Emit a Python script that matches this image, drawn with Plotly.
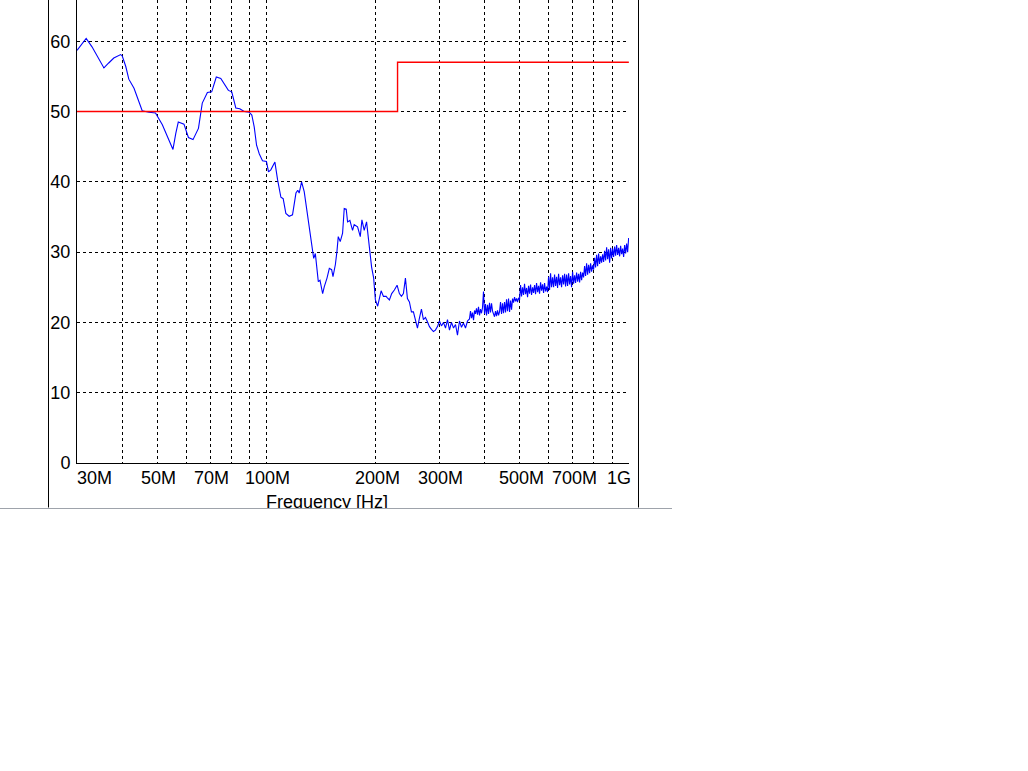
import math
import plotly.graph_objects as go

# ---------------- data ----------------
# measured trace: frequency in MHz, level in dB(uV/m)
freq_mhz = [
    30.0, 31.8, 33.0, 35.6, 36.7, 37.9, 39.6, 40.0, 40.9, 41.7, 43.1, 44.0, 45.4, 47.4, 49.4,
    51.6, 53.6, 55.2, 56.2, 57.1, 59.2, 60.9, 62.7, 64.9, 66.5, 68.7, 70.6, 72.7, 74.8, 78.5,
    80.2, 82.3, 84.4, 86.8, 89.6, 91.1, 92.5, 93.9, 95.5, 97.5, 100.0, 101.3, 102.8, 105.5,
    107.3, 109.6, 111.2, 113.1, 115.5, 118.0, 120.6, 122.0, 123.1, 125.0, 127.1, 129.3, 130.6,
    132.6, 134.1, 135.0, 136.4, 137.9, 139.0, 140.5, 142.9, 144.4, 146.9, 149.1, 151.3, 152.6,
    154.9, 156.5, 157.8, 159.8, 162.2, 163.9, 166.0, 167.4, 169.9, 172.8, 174.6, 178.4, 181.5,
    183.4, 186.1, 188.9, 191.3, 193.0, 195.0, 197.6, 199.8, 202.7, 205.0, 207.2, 210.3, 213.9,
    215.6, 218.4, 221.6, 225.4, 229.3,
    232.7, 235.7, 238.7, 241.8, 244.9, 248.0, 251.2, 254.4, 257.7, 261.0, 264.3, 267.7, 271.1,
    274.6, 278.1, 281.7, 285.3, 288.9, 292.6, 296.4, 300.2, 304.0, 307.9, 311.9, 315.9, 319.9,
    324.0, 328.2, 332.4, 336.6, 340.9, 345.3, 349.7, 354.2, 358.7,
    363.3, 365.6, 368.0, 370.3, 372.7, 375.1, 377.4, 379.8, 382.3, 384.7,
    387.2, 389.6, 392.1, 394.6, 397.1, 399.7, 402.2, 404.8, 407.4, 410.0,
    412.6, 415.2, 417.9, 420.6, 423.2, 425.9, 428.6, 431.4, 434.1, 436.9,
    439.7, 442.5, 445.3, 448.2, 451.0, 453.9, 456.8, 459.7, 462.6, 465.6,
    468.6, 471.6, 474.6, 477.6, 480.6, 483.7, 486.8, 489.9, 493.0, 496.2,
    499.3, 502.5, 505.7, 508.9, 512.2, 515.4, 518.7, 522.0, 525.4, 528.7,
    532.1, 535.5, 538.9, 542.4, 545.8, 549.3, 552.8, 556.3, 559.9, 563.5,
    567.0, 570.7, 574.3, 578.0, 581.7, 585.4, 589.1, 592.9, 596.6, 600.5,
    604.3, 608.1, 612.0, 615.9, 619.9, 623.8, 627.8, 631.8, 635.8, 639.9,
    644.0, 648.1, 652.2, 656.4, 660.6, 664.8, 669.0, 673.3, 677.6, 681.9,
    686.2, 690.6, 695.0, 699.5, 703.9, 708.4, 712.9, 717.5, 722.1, 726.7,
    731.3, 736.0, 740.7, 745.4, 750.1, 754.9, 759.7, 764.6, 769.5, 774.4,
    779.3, 784.3, 789.3, 794.3, 799.4, 804.5, 809.6, 814.8, 820.0, 825.2,
    830.5, 835.8, 841.1, 846.5, 851.9, 857.3, 862.8, 868.3, 873.8, 879.4,
    885.0, 890.6, 896.3, 902.0, 907.8, 913.6, 919.4, 925.3, 931.2, 937.1,
    943.1, 949.1, 955.2, 961.3, 967.4, 973.6, 979.8, 986.0, 992.3, 998.7,
]
level_db = [
    58.7, 60.4, 59.2, 56.2, 56.9, 57.6, 58.1, 57.9, 56.4, 54.6, 53.3, 52.1, 50.1, 49.9, 49.8,
    48.1, 46.2, 44.6, 46.9, 48.5, 48.2, 46.3, 46.0, 47.6, 51.2, 52.7, 52.8, 54.9, 54.7, 53.0,
    52.8, 50.5, 50.4, 50.0, 49.9, 49.5, 47.8, 45.2, 44.0, 43.0, 42.9, 41.4, 41.7, 42.8,
    40.3, 37.8, 37.6, 35.5, 35.1, 35.3, 38.4, 38.8, 38.4, 40.0, 38.6, 36.0, 34.1,
    32.2, 30.3, 29.1, 29.8, 27.7, 25.8, 26.0, 24.1, 25.1, 26.3, 27.7, 27.5, 26.5,
    28.2, 30.1, 32.2, 31.5, 32.7, 36.2, 36.1, 34.3, 34.5, 33.1, 33.9, 33.6, 32.2,
    34.6, 33.1, 34.3, 31.7, 29.3, 27.9, 26.3, 23.2, 22.3, 23.7, 24.5, 23.7, 23.7,
    23.5, 23.2, 24.1, 24.6, 25.3,
    24.1, 23.7, 24.1, 26.3, 23.4, 22.9, 21.5, 21.5, 20.1, 19.2, 20.6, 21.9, 20.4,
    20.7, 20.1, 19.4, 19.0, 18.7, 18.9, 19.4, 20.2, 19.5, 20.0, 19.2, 20.4, 18.9,
    20.0, 19.2, 19.7, 18.2, 20.2, 19.3, 19.9, 19.2, 20.2,
    20.5, 21.6, 20.6, 21.4, 20.3, 21.7, 21.2, 22.0, 21.1, 22.2,
    21.0, 21.9, 21.3, 22.1, 24.4, 21.2, 22.6, 21.0, 22.5, 21.2,
    22.8, 21.4, 22.7, 21.6, 21.0, 20.8, 21.6, 20.9, 21.7, 21.0,
    21.5, 22.9, 21.2, 22.7, 21.3, 22.9, 21.4, 23.3, 21.6, 23.4,
    21.5, 23.1, 21.8, 23.4, 22.8, 23.6, 23.0, 23.4, 22.9, 23.5,
    23.2, 25.3, 23.7, 25.0, 23.9, 25.5, 24.0, 24.9, 23.6, 25.2,
    24.1, 25.4, 23.9, 25.0, 24.2, 25.3, 24.0, 25.6, 24.3, 25.2,
    24.1, 25.7, 24.5, 25.4, 24.2, 25.6, 24.4, 25.1, 24.3, 26.5,
    24.6, 27.0, 25.0, 26.4, 25.0, 26.8, 25.2, 26.5, 24.9, 26.9,
    25.3, 26.4, 25.0, 26.7, 25.4, 26.9, 25.1, 26.8, 25.2, 27.0,
    25.4, 26.6, 25.0, 27.2, 25.5, 26.7, 25.6, 27.1, 25.8, 26.9,
    25.7, 27.2, 26.0, 27.1, 26.4, 28.0, 26.6, 28.4, 26.8, 28.2,
    27.0, 28.4, 27.2, 28.1, 27.5, 29.2, 27.8, 29.6, 28.0, 29.8,
    28.3, 29.4, 28.5, 29.7, 28.6, 30.2, 28.8, 30.7, 29.0, 30.4,
    28.5, 30.6, 29.1, 30.5, 29.3, 30.8, 29.5, 31.0, 29.6, 30.6,
    29.4, 30.9, 29.7, 30.5, 29.3, 31.0, 29.8, 31.2, 30.0, 32.0,
]

# limit line (MHz, dB)
limit_freq_mhz = [30, 230, 230, 1000]
limit_db = [50, 50, 57, 57]

# axis ticks
x_grid_mhz = [40, 50, 60, 70, 80, 90, 100, 200, 300, 400, 500, 600, 700, 800, 900, 1000]
x_label_mhz = [30, 50, 70, 100, 200, 300, 500, 700, 1000]
x_label_text = ["30M", "50M", "70M", "100M", "200M", "300M", "500M", "700M", "1G"]
y_ticks = [0, 10, 20, 30, 40, 50, 60]
x_title = "Frequency [Hz]"

# ---------------- figure ----------------
FONT = "Liberation Sans, Arial, sans-serif"
FS = 18
W, H = 1028, 771
ML, MR, MT, MB = 77, 399, 0, 263
plot_w = W - ML - MR          # 552
plot_h = H - MT - MB          # 508
main_bottom = 45 / plot_h     # main plot spans 0..463 px

fig = go.Figure()
fig.add_trace(go.Scatter(x=freq_mhz, y=level_db, mode="lines",
                         line=dict(color="#0000ff", width=1.1), hoverinfo="skip",
                         showlegend=False))
fig.add_trace(go.Scatter(x=limit_freq_mhz, y=limit_db, mode="lines",
                         line=dict(color="#ff0000", width=1.4), hoverinfo="skip",
                         showlegend=False))
# clipped axis title (lower strip subplot so that its bottom is cut like the reference)
fig.add_trace(go.Scatter(x=[0.4529], y=[4.4], mode="text", text=[x_title],
                         textposition="middle center", cliponaxis=True,
                         textfont=dict(family=FONT, size=FS, color="black"),
                         xaxis="x2", yaxis="y2", hoverinfo="skip", showlegend=False))

grid = dict(showgrid=True, gridcolor="black", gridwidth=1, griddash="3px,3px")

fig.update_layout(
    width=W, height=H,
    margin=dict(l=ML, r=MR, t=MT, b=MB, pad=0),
    paper_bgcolor="white", plot_bgcolor="white",
    font=dict(family=FONT, size=FS, color="black"),
    xaxis=dict(type="log", range=[math.log10(30), math.log10(1001)],
               domain=[0, 1], anchor="y",
               tickvals=x_grid_mhz, showticklabels=False, ticks="",
               showline=True, linecolor="black", linewidth=1,
               zeroline=False, fixedrange=True, **grid),
    yaxis=dict(range=[0, 65.86], domain=[main_bottom, 1], anchor="x",
               tickvals=y_ticks, ticks="", ticklabelstandoff=2,
               tickfont=dict(family=FONT, size=FS, color="black"),
               showline=True, linecolor="black", linewidth=1,
               zeroline=False, fixedrange=True, **grid),
    xaxis2=dict(range=[0, 1], domain=[0, 1], anchor="y2", visible=False,
                showgrid=False, zeroline=False, fixedrange=True),
    yaxis2=dict(range=[0, 45], domain=[0, main_bottom], anchor="x2", visible=False,
                showgrid=False, zeroline=False, fixedrange=True),
)

# x tick labels
anns = []
for f, t in zip(x_label_mhz, x_label_text):
    if f == x_label_mhz[0]:
        xa, xs = "left", -2
    elif f == x_label_mhz[-1]:
        xa, xs = "right", 4
    else:
        xa, xs = "center", 1.5
    anns.append(dict(x=math.log10(f), y=(plot_h - 478) / plot_h, xref="x", yref="paper",
                     text=t, showarrow=False, xanchor=xa, yanchor="middle", xshift=xs,
                     font=dict(family=FONT, size=FS, color="black")))
fig.update_layout(annotations=anns)

# window frame lines
def px(xp):
    return (xp - ML) / plot_w

def py(yp):
    return (plot_h - yp) / plot_h

shapes = [
    dict(type="line", xref="paper", yref="paper", x0=px(48.5), x1=px(48.5), y0=py(0), y1=py(507.5),
         line=dict(color="black", width=1)),
    dict(type="line", xref="paper", yref="paper", x0=px(638.5), x1=px(638.5), y0=py(0), y1=py(507.5),
         line=dict(color="black", width=1)),
    dict(type="line", xref="paper", yref="paper", x0=px(0), x1=px(672), y0=py(508.5), y1=py(508.5),
         line=dict(color="#9ea3ab", width=1)),
]
fig.update_layout(shapes=shapes)

fig.write_html("out.html", config={"displayModeBar": False},
               post_script="document.body.style.margin='0';document.body.style.overflow='hidden';")
